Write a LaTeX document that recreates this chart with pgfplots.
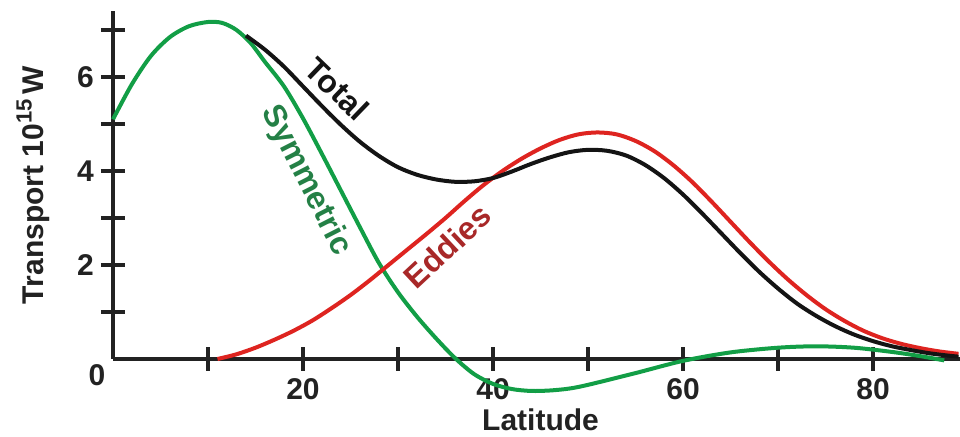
\documentclass[border=0pt]{standalone}
\usepackage{fontspec}
\setmainfont{Liberation Sans}
\usepackage{pgfplots}
\pgfplotsset{compat=1.18}
\definecolor{symgreen}{RGB}{18,158,70}
\definecolor{symtext}{RGB}{36,128,70}
\definecolor{edred}{RGB}{222,36,32}
\definecolor{edtext}{RGB}{168,40,40}
\definecolor{axisgray}{RGB}{34,34,34}
\definecolor{totblack}{RGB}{20,20,20}
\begin{document}
\begin{tikzpicture}
\begin{axis}[
  scale only axis,
  x=4.75pt, y=23.5pt,
  xmin=0, xmax=89.2, ymin=0, ymax=7.4,
  axis lines=left,
  axis line style={-, line width=2pt, color=axisgray},
  clip=false,
  xtick={10,20,...,80},
  xticklabels={,20,,40,,60,,80},
  ytick={1,...,7},
  yticklabels={,2,,4,,6,},
  tick align=center,
  major tick length=12pt,
  tick style={line width=1.6pt, color=axisgray},
  tick label style={font=\fontsize{15}{17}\selectfont\bfseries, text=axisgray},
  /pgf/number format/assume math mode=true,
]
\addplot[symgreen, line width=2pt, smooth] coordinates {
(0,5.1) (2,5.85) (4,6.45) (6,6.85) (8,7.08) (10,7.17) (11.5,7.15) (13,7.0)
(14.5,6.72) (16,6.32) (18,5.8) (20,5.12) (22,4.36) (24,3.58) (26,2.8) (28,2.04)
(30,1.42) (32,0.9) (34,0.44) (36,0.02) (38,-0.32) (40,-0.53) (42,-0.64)
(44,-0.68) (46,-0.67) (48,-0.63) (50,-0.55) (55,-0.3) (60,-0.04) (65,0.14) (70,0.24)
(74,0.27) (78,0.24) (82,0.15) (85,0.06) (87.5,-0.03)};
\addplot[edred, line width=2pt, smooth] coordinates {
(11,0) (13,0.1) (15,0.24) (17,0.41) (19,0.6) (21,0.82) (23,1.08) (25,1.36)
(27,1.67) (29,2.0) (31,2.33) (33,2.66) (35,3.0) (37,3.36) (39,3.7) (41,4.0)
(43,4.26) (45,4.48) (47,4.66) (49,4.78) (51,4.82) (53,4.78) (55,4.64) (57,4.42)
(59,4.12) (61,3.76) (63,3.35) (65,2.92) (67,2.49) (69,2.08) (71,1.7) (73,1.36)
(75,1.06) (77,0.81) (79,0.6) (81,0.44) (83,0.32) (85,0.23) (87,0.16) (89,0.11)};
\addplot[totblack, line width=2pt, smooth] coordinates {
(14,6.88) (16,6.58) (18,6.22) (20,5.8) (22,5.38) (24,4.98) (26,4.62) (28,4.32)
(30,4.08) (32,3.92) (34,3.82) (36,3.77) (38,3.78) (40,3.85) (42,3.99) (44,4.15)
(46,4.29) (48,4.4) (50,4.45) (52,4.43) (54,4.33) (56,4.13) (58,3.85) (60,3.5)
(62,3.1) (64,2.68) (66,2.26) (68,1.86) (70,1.5) (72,1.18) (74,0.92) (76,0.7)
(78,0.52) (80,0.38) (82,0.27) (84,0.19) (86,0.12) (88,0.07) (89,0.05)};
\node[font=\fontsize{16}{18}\selectfont\bfseries, text=totblack, rotate=-44] at (axis cs:23.6,5.75) {Total};
\node[font=\fontsize{16}{18}\selectfont\bfseries, text=symtext, rotate=-63] at (axis cs:20.3,3.8) {Symmetric};
\node[font=\fontsize{16}{18}\selectfont\bfseries, text=edtext, rotate=43] at (axis cs:35.2,2.4) {Eddies};
\node[font=\fontsize{15}{17}\selectfont\bfseries, text=axisgray] at ([xshift=-8pt,yshift=-8pt]axis cs:0,0) {0};
\node[font=\fontsize{15}{17}\selectfont\bfseries, text=axisgray] at ([yshift=-30.5pt]axis cs:45,0) {Latitude};
\node[font=\fontsize{15}{17}\selectfont\bfseries, text=axisgray, rotate=90] at ([xshift=-40pt]axis cs:0,3.7) {Transport 10\raisebox{0.75ex}{\fontsize{11}{11}\selectfont 15}\,W};
\coordinate (O) at (axis cs:0,0);
\end{axis}
\pgfresetboundingbox
\path[use as bounding box] ([shift={(-56.5pt,-39pt)}]O) rectangle ([shift={(423.5pt,179.5pt)}]O);
\end{tikzpicture}
\end{document}
